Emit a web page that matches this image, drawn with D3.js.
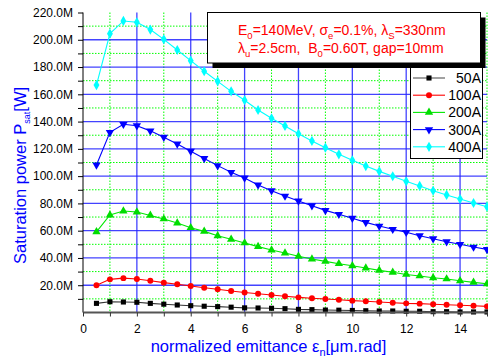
<!DOCTYPE html>
<html><head><meta charset="utf-8">
<script src="https://cdn.jsdelivr.net/npm/d3@7"></script>
<style>
html,body{margin:0;padding:0;background:#fff;}
svg{display:block;font-family:Arial,"Liberation Sans",sans-serif;}
</style></head>
<body><svg id="c" width="488" height="357"></svg>
<script>
// ---- data (values in MW, i.e. "M" of W) ----
const emittance = [0.5,1,1.5,2,2.5,3,3.5,4,4.5,5,5.5,6,6.5,7,7.5,8,8.5,9,9.5,10,10.5,11,11.5,12,12.5,13,13.5,14,14.5,15];
const s50  = [6.7,7.9,7.7,7.5,6.7,6.1,5.5,5.0,4.6,4.3,3.9,3.4,3.3,3.1,2.8,2.3,2.1,1.8,1.7,1.5,1.3,1.1,1.1,0.9,0.9,0.6,0.6,0.4,0.4,0.4];
const s100 = [20.0,24.3,25.2,24.6,23.3,21.9,20.7,19.4,18.2,17.0,15.8,14.7,13.8,12.8,11.9,11.1,10.4,9.9,9.4,8.7,8.2,7.7,7.2,6.7,6.5,6.0,5.7,5.3,5.0,4.5];
const s200 = [59.1,71.5,74.4,73.7,71.2,68.6,65.6,62.2,59.5,56.3,53.7,51.0,48.3,45.8,43.6,41.2,39.2,37.5,35.8,34.3,32.6,30.9,29.5,27.9,26.8,25.5,24.6,23.3,22.1,21.1];
const s300 = [108.2,132.1,138.0,137.0,133.2,128.5,123.6,118.3,113.0,107.7,102.8,98.7,93.5,89.3,85.4,81.8,78.3,74.9,72.0,69.1,66.1,63.4,61.0,58.8,56.3,54.1,51.9,50.0,48.0,46.3];
const s400 = [166.8,204.5,213.8,212.8,207.5,200.3,192.5,184.7,176.9,169.5,162.2,155.7,148.5,142.4,136.8,131.1,125.8,120.9,116.0,111.6,107.4,103.5,99.9,96.2,92.8,89.3,86.2,83.2,80.3,77.6];
const seriesNames = ["50A","100A","200A","300A","400A"];
const yMajorTicks = [20,40,60,80,100,120,140,160,180,200,220];
const yMinorTicks = [10,30,50,70,90,110,130,150,170,190,210];
const xMajorTicks = [0,2,4,6,8,10,12,14];
const xMinorTicks = [1,3,5,7,9,11,13,15];

const seriesVals = [s50,s100,s200,s300,s400];
const lineColors = ["#333333","#ff0000","#00e800","#0000ff","#00ffff"];
const markColors = ["#000000","#ff0000","#00dd00","#0000ff","#00ffff"];
const symbols = [d3.symbolSquare,d3.symbolCircle,d3.symbolTriangle,d3.symbolTriangle,d3.symbolDiamond];
const symSizes = [26,28,30,30,30];
const symRot = [0,0,0,180,0];

const svg = d3.select("#c");
const L=83, R=487, T=12.5, B=312.5;
const x = d3.scaleLinear().domain([0,15]).range([L,R]);
const y = d3.scaleLinear().domain([0,220]).range([B,T]);

// grid
const g = svg.append("g");
g.selectAll(".hmin").data(yMinorTicks).join("line")
 .attr("x1",L).attr("x2",R).attr("y1",d=>y(d)).attr("y2",d=>y(d))
 .attr("stroke","#00ff00").attr("stroke-width",1).attr("stroke-dasharray","1.5,1.5");
g.selectAll(".vmin").data(xMinorTicks).join("line")
 .attr("y1",T).attr("y2",B).attr("x1",d=>x(d)).attr("x2",d=>x(d))
 .attr("stroke","#00ff00").attr("stroke-width",1).attr("stroke-dasharray","1.5,1.5");
g.selectAll(".hmaj").data(yMajorTicks.filter(d=>d<220)).join("line")
 .attr("x1",L).attr("x2",R).attr("y1",d=>y(d)).attr("y2",d=>y(d))
 .attr("stroke","#2222ff").attr("stroke-width",1.3).attr("stroke-opacity",0.85);
g.selectAll(".vmaj").data(xMajorTicks.filter(d=>d>0)).join("line")
 .attr("y1",T).attr("y2",B).attr("x1",d=>x(d)).attr("x2",d=>x(d))
 .attr("stroke","#2222ff").attr("stroke-width",1.3).attr("stroke-opacity",0.85);

// series
const line = d3.line().x((d,i)=>x(emittance[i])).y(d=>y(d));
seriesVals.forEach((vals,k)=>{
  svg.append("path").datum(vals).attr("d",line).attr("fill","none")
    .attr("stroke",lineColors[k]).attr("stroke-width",1.1);
  svg.append("g").selectAll("path").data(vals).join("path")
    .attr("d",d3.symbol().type(symbols[k]).size(symSizes[k]))
    .attr("transform",(d,i)=>`translate(${x(emittance[i])},${y(d)}) rotate(${symRot[k]})`)
    .attr("fill",markColors[k]);
});

// axes
const yAxis = d3.axisLeft(y).tickValues(yMajorTicks).tickSize(5).tickPadding(5)
  .tickFormat(d=>d.toFixed(1)+"M");
const ya = svg.append("g").attr("transform",`translate(${L},0)`).call(yAxis);
ya.select(".domain").attr("stroke","#000").attr("d",`M0,${B}V${T}`);
ya.selectAll("text").attr("font-size",12).attr("fill","#000").attr("font-family","Arial, 'Liberation Sans', sans-serif");
const yAxisMin = d3.axisLeft(y).tickValues(yMinorTicks).tickSize(5).tickFormat("");
const ym = svg.append("g").attr("transform",`translate(${L},0)`).call(yAxisMin);
ym.select(".domain").remove();

const xAxis = d3.axisBottom(x).tickValues(xMajorTicks).tickSize(4).tickPadding(8).tickFormat(d3.format("d"));
const xa = svg.append("g").attr("transform",`translate(0,${B})`).call(xAxis);
xa.select(".domain").attr("stroke","#555").attr("stroke-width",2).attr("d",`M${L},0H${R+1}`);
xa.selectAll(".tick line").attr("stroke","#333");
xa.selectAll("text").attr("font-size",12).attr("fill","#000").attr("font-family","Arial, 'Liberation Sans', sans-serif");
const xAxisMin = d3.axisBottom(x).tickValues(xMinorTicks).tickSize(4).tickFormat("");
const xm = svg.append("g").attr("transform",`translate(0,${B})`).call(xAxisMin);
xm.select(".domain").remove();
xm.selectAll(".tick line").attr("stroke","#333");

// axis titles
const xt = svg.append("text").attr("x",268.5).attr("y",351.5).attr("text-anchor","middle")
  .attr("font-size",16.5).attr("fill","#0000ff");
xt.append("tspan").text("normalized emittance ε");
xt.append("tspan").attr("font-size",11).attr("dy",4).text("n");
xt.append("tspan").attr("dy",-4).text("[μm.rad]");

const yt = svg.append("text").attr("transform","translate(26,175.5) rotate(-90)").attr("text-anchor","middle")
  .attr("font-size",16.5).attr("fill","#0000ff");
yt.append("tspan").text("Saturation power P");
yt.append("tspan").attr("font-size",9).attr("dy",4).text("sat");
yt.append("tspan").attr("dy",-4).text("[W]");

// annotation box
svg.append("rect").attr("x",212.5).attr("y",17.5).attr("width",273).attr("height",50.5).attr("fill","#000");
svg.append("rect").attr("x",207.5).attr("y",12.5).attr("width",273).attr("height",50.5)
  .attr("fill","#fff").attr("stroke","#000").attr("stroke-width",1);
function ann(yy, parts){
  const t = svg.append("text").attr("x",238).attr("y",yy).attr("font-size",14).attr("fill","#ff0000")
    .style("white-space","pre");
  parts.forEach(p=>{
    const s = t.append("tspan").text(p[0]);
    if(p[1]){ s.attr("font-size",9.5).attr("dy",4); }
    else if(p[2]){ s.attr("dy",-4); }
  });
}
ann(34.5,[["E"],["0",1],["=140MeV, σ",0,1],["e",1],["=0.1%, λ",0,1],["S",1],["=330nm",0,1]]);
ann(53,[["λ"],["u",1],["=2.5cm,\u00a0 B",0,1],["0",1],["=0.60T, gap=10mm",0,1]]);

// legend
svg.append("rect").attr("x",410.5).attr("y",67.5).attr("width",72).attr("height",91)
  .attr("fill","#fff").attr("stroke","#000").attr("stroke-width",1);
seriesNames.forEach((nm,k)=>{
  const yy = 78 + k*17.2;
  svg.append("line").attr("x1",413).attr("x2",445).attr("y1",yy).attr("y2",yy)
    .attr("stroke",lineColors[k]==="#333333"?"#555":lineColors[k]).attr("stroke-width",1.1);
  svg.append("path").attr("d",d3.symbol().type(symbols[k]).size(symSizes[k]))
    .attr("transform",`translate(429,${yy}) rotate(${symRot[k]})`).attr("fill",markColors[k]);
  svg.append("text").attr("x",481).attr("y",yy+5).attr("text-anchor","end")
    .attr("font-size",14).attr("fill","#000").text(nm);
});
</script></body></html>
